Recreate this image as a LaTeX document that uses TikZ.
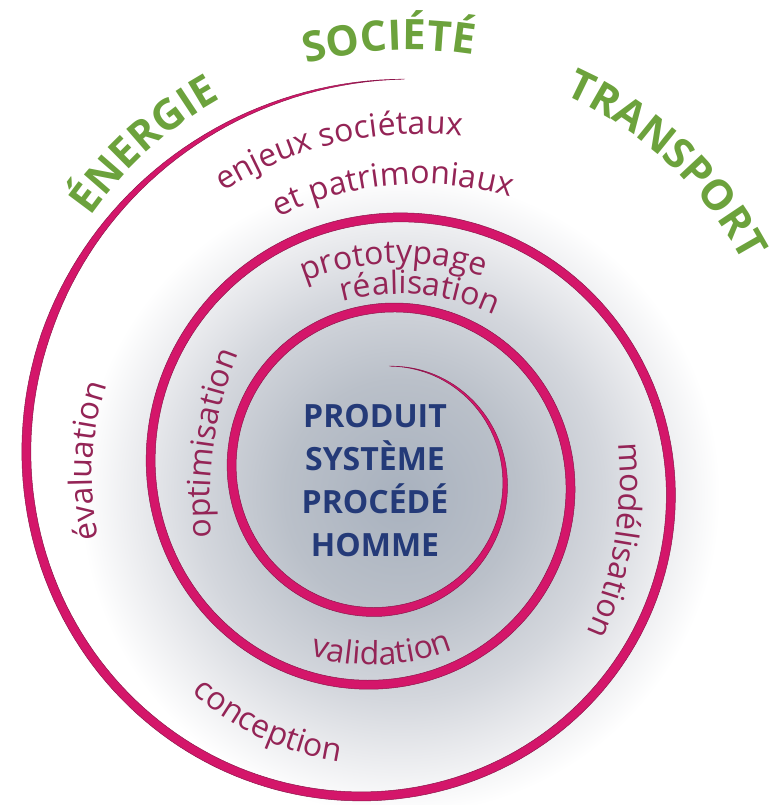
\documentclass[tikz,border=0pt]{standalone}
\usepackage{fontspec}
\setmainfont{Open Sans}
\usetikzlibrary{decorations.text}
\definecolor{ringc}{RGB}{212,22,106}
\definecolor{ringdark}{RGB}{140,22,75}
\definecolor{labc}{RGB}{148,36,86}
\definecolor{greenc}{RGB}{108,162,60}
\definecolor{navyc}{RGB}{36,58,120}
\definecolor{gzero}{RGB}{168,177,190}
\definecolor{gone}{RGB}{186,192,201}
\definecolor{gtwo}{RGB}{212,215,221}
\definecolor{gthree}{RGB}{234,235,238}
\pgfdeclareradialshading{halo}{\pgfpoint{0bp}{0bp}}{color(0bp)=(gzero); color(9bp)=(gone); color(16bp)=(gtwo); color(20.5bp)=(gthree); color(25bp)=(white); color(50bp)=(white)}
\newcommand\labfont{\fontsize{32}{32}\selectfont}
\newcommand\titfont{\fontsize{42}{42}\selectfont\bfseries}
\tikzset{
  curvlab/.style={decorate, decoration={text along path, text align=center, text color=labc, text={|\labfont|#1}}},
  curvtit/.style={decorate, decoration={text along path, text align=center, text color=greenc, text={|\titfont|#1}}},
}
\begin{document}
\begin{tikzpicture}[x=1pt, y=1pt,
  declare function={rr(\t)=396*exp(-0.0011944*(\t-90));
                    ww(\t)=9*min(1,max(0,(\t-87)/70))*min(1,max(0,(1166-\t)/176));}]
\useasboundingbox (0,0) rectangle (776,805);
% grey halo
\shade[shading=halo] (400,310) circle[radius=320pt];
% tapered spiral
\fill[ringc, draw=ringdark, line width=0.5pt]
  plot[domain=87:1166, samples=600, variable=\t]
    ({383+(rr(\t)+0.5*ww(\t))*cos(\t)}, {329+(rr(\t)+0.5*ww(\t))*sin(\t)})
  -- plot[domain=1166:87, samples=600, variable=\t]
    ({383+(rr(\t)-0.5*ww(\t))*cos(\t)}, {329+(rr(\t)-0.5*ww(\t))*sin(\t)})
  -- cycle;
% green titles
\path[curvtit={ÉNERGIE}] (410,365) ++(161:390pt) arc[start angle=161, end angle=103, radius=390pt];
\path[curvtit={SOCIÉTÉ}] (410,365) ++(122:390pt) arc[start angle=122, end angle=64, radius=390pt];
\path[curvtit={TRANSPORT}] (410,365) ++(81:378pt) arc[start angle=81, end angle=13, radius=378pt];
% labels
\path[curvlab={enjeux sociétaux}] (420,305) ++(135:366pt) arc[start angle=135, end angle=71, radius=366pt];
\path[curvlab={et patrimoniaux}] (420,305) ++(130:316pt) arc[start angle=130, end angle=60, radius=316pt];
\path[curvlab={prototypage}] (400,285) ++(130:257pt) arc[start angle=130, end angle=53, radius=257pt];
\path[curvlab={réalisation}] (400,285) ++(125:226pt) arc[start angle=125, end angle=45, radius=226pt];
\path[curvlab={optimisation}] (600,305) ++(200:390pt) arc[start angle=200, end angle=143.4, radius=390pt];
\path[curvlab={évaluation}] (383,329) ++(210:291pt) arc[start angle=210, end angle=144, radius=291pt];
\path[curvlab={modélisation}] (250,325) ++(20:370pt) arc[start angle=20, end angle=-38.7, radius=370pt];
\path[curvlab={validation}] (373,357) ++(240:217pt) arc[start angle=240, end angle=305, radius=217pt];
\path[curvlab={conception}] (383,329) ++(213:289pt) arc[start angle=213, end angle=277, radius=289pt];
% core
\node[align=center, text=navyc, font=\fontsize{32}{43}\selectfont\bfseries] (core) at (375,324) {PRODUIT\\SYSTÈME\\PROCÉDÉ\\HOMME};
\end{tikzpicture}
\end{document}
